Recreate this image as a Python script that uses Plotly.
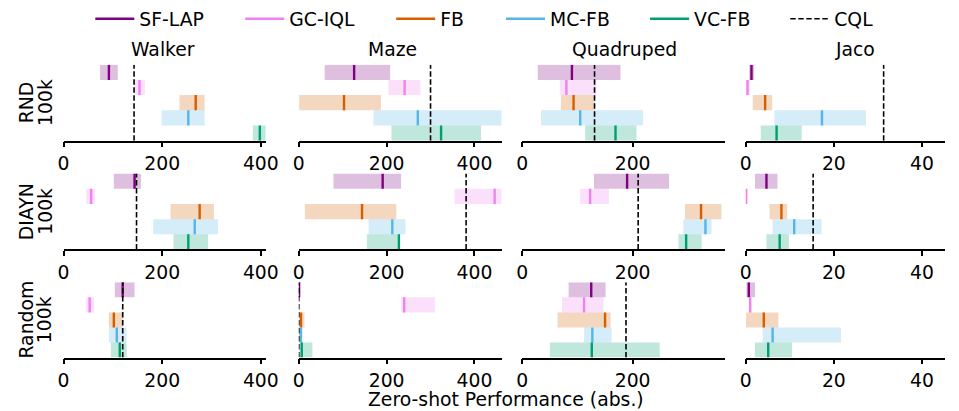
import plotly.graph_objects as go

W, H = 959, 411

METHODS = ["SF-LAP", "GC-IQL", "FB", "MC-FB", "VC-FB"]
COLORS = ["#800080", "#EE82EE", "#D55E00", "#56B4E9", "#009E73"]
ENVS = ["Walker", "Maze", "Quadruped", "Jaco"]
DATASETS = ["RND", "DIAYN", "Random"]
X_TICKS = [[0, 200, 400], [0, 200, 400], [0, 200], [0, 20, 40]]
X_MAX = [410, 462, 367, 45.3]

# RND 100k -- one list per environment, one value per method
RND_LOW = [[74, 145, 235, 199, 384], [59, 204, 1, 170, 211], [28, 68, 70, 34, 114], [0.8, 0.15, 1.6, 6.5, 3.4]]
RND_MED = [[92, 154, 268, 253, 398], [126, 241, 103, 271, 324], [90, 80, 93, 105, 169], [1.3, 0.4, 4.4, 17.3, 7.0]]
RND_HIGH = [[110, 165, 286, 286, 410], [208, 277, 187, 462, 415], [178, 134, 131, 219, 207], [1.9, 1.0, 6.0, 27.3, 12.7]]
RND_CQL = [143, 300, 131, 31.3]

# DIAYN 100k
DIAYN_LOW = [[102, 46, 217, 182, 223], [79, 355, 14, 159, 155], [130, 105, 295, 292, 283], [2.1, 0.0, 5.4, 6.1, 4.7]]
DIAYN_MED = [[144, 56, 276, 266, 253], [191, 446, 144, 213, 228], [190, 123, 324, 332, 297], [4.7, 0.1, 8.1, 11.0, 7.7]]
DIAYN_HIGH = [[157, 64, 305, 313, 293], [233, 462, 222, 243, 230], [266, 157, 361, 343, 325], [7.2, 0.3, 9.4, 17.2, 9.8]]
DIAYN_CQL = [148, 381, 210, 15.3]

# Random 100k
RANDOM_LOW = [[104, 46, 92, 92, 96], [0, 233, 2, 0, 2], [84, 72, 64, 112, 50], [0.15, 0.8, 0.07, 3.85, 2.07]]
RANDOM_MED = [[120, 53, 102, 108, 114], [0.7, 240, 5, 4.5, 6.7], [125, 112, 150, 127, 126], [0.7, 1.0, 4.1, 6.1, 5.1]]
RANDOM_HIGH = [[144, 62, 120, 128, 128], [3, 310, 13, 9, 31], [151, 147, 160, 162, 249], [2.1, 1.3, 7.4, 21.6, 10.5]]
RANDOM_CQL = [120, 0, 188, None]

LOWS = [RND_LOW, DIAYN_LOW, RANDOM_LOW]
MEDS = [RND_MED, DIAYN_MED, RANDOM_MED]
HIGHS = [RND_HIGH, DIAYN_HIGH, RANDOM_HIGH]
CQLS = [RND_CQL, DIAYN_CQL, RANDOM_CQL]

# panel placement in pixels
COL_PX = [(58.7, 265.0), (298.7, 505.7), (526.7, 733.3), (754.7, 958.3)]
ROW_PX = [(58.7, 136.0), (169.5, 246.7), (280.0, 356.7)]
TITLE_X = [160, 394, 631, 866]
LEGEND_TEXT_X = [140, 293, 447, 559, 706, 849]

FONT = "DejaVu Sans"
FS = 18.8


def px(x):
    return x / W


def py(y):
    return 1 - y / H


def rgba(hex_color, a):
    h = hex_color.lstrip("#")
    r, g, b = int(h[0:2], 16), int(h[2:4], 16), int(h[4:6], 16)
    return f"rgba({r},{g},{b},{a})"


fig = go.Figure()
layout = {}
pos = [4 - i for i in range(len(METHODS))]  # first method on top

for r in range(3):
    for c in range(4):
        k = r * 4 + c + 1
        xa = "x" if k == 1 else f"x{k}"
        ya = "y" if k == 1 else f"y{k}"
        low, med, high = LOWS[r][c], MEDS[r][c], HIGHS[r][c]

        # interval bars
        fig.add_trace(go.Bar(
            orientation="h", y=pos, base=low,
            x=[h - l for l, h in zip(low, high)], width=1,
            marker=dict(color=[rgba(col, 0.25) for col in COLORS], line=dict(width=0)),
            showlegend=False, hoverinfo="skip", xaxis=xa, yaxis=ya,
        ))
        # median ticks
        for i, m in enumerate(METHODS):
            first = (r == 0 and c == 0)
            fig.add_trace(go.Scatter(
                x=[med[i], med[i]], y=[pos[i] - 0.5, pos[i] + 0.5], mode="lines",
                line=dict(color=COLORS[i], width=2.4), name=m,
                showlegend=first, legend="legend" if i == 0 else f"legend{i + 1}",
                hoverinfo="skip", xaxis=xa, yaxis=ya,
            ))
        # CQL reference line
        cql = CQLS[r][c]
        if cql is not None:
            fig.add_trace(go.Scatter(
                x=[cql, cql], y=[-0.5, 4.5], mode="lines",
                line=dict(color="black", width=1.6, dash="5.5px,2.5px"), name="CQL",
                showlegend=(r == 0 and c == 0), legend="legend6",
                hoverinfo="skip", xaxis=xa, yaxis=ya,
            ))

        x0, x1 = COL_PX[c]
        y0, y1 = ROW_PX[r]
        layout["xaxis" if k == 1 else f"xaxis{k}"] = dict(
            domain=[px(x0), px(x1)], anchor=ya, range=[0, X_MAX[c]],
            tickvals=X_TICKS[c], ticktext=[str(t) for t in X_TICKS[c]],
            ticks="outside", ticklen=5, tickwidth=1.6, tickcolor="black",
            showline=True, linecolor="black", linewidth=1.6, showgrid=False, zeroline=False,
            tickfont=dict(family=FONT, size=FS, color="black"), fixedrange=True,
        )
        layout["yaxis" if k == 1 else f"yaxis{k}"] = dict(
            domain=[py(y1), py(y0)], anchor=xa, range=[-0.5, 4.5],
            visible=False, showgrid=False, zeroline=False, fixedrange=True,
        )

annotations = []
for c, env in enumerate(ENVS):
    annotations.append(dict(text=env, x=px(TITLE_X[c]), y=py(43), xref="paper", yref="paper",
                            xanchor="center", yanchor="middle", showarrow=False,
                            font=dict(family=FONT, size=FS, color="black")))
for r, ds in enumerate(DATASETS):
    yc = py(sum(ROW_PX[r]) / 2)
    for line, xc in ((ds, 21), ("100k", 40)):
        annotations.append(dict(text=line, x=px(xc), y=yc, xref="paper", yref="paper",
                                xanchor="center", yanchor="middle", textangle=-90, showarrow=False,
                                font=dict(family=FONT, size=FS, color="black")))
annotations.append(dict(text="Zero-shot Performance (abs.)", x=px(510.5), y=py(399),
                        xref="paper", yref="paper", xanchor="center", yanchor="middle",
                        showarrow=False, font=dict(family=FONT, size=FS, color="black")))

for i, tx in enumerate(LEGEND_TEXT_X):
    key = "legend" if i == 0 else f"legend{i + 1}"
    layout[key] = dict(x=px(tx - 54), y=py(12), xanchor="left", yanchor="middle",
                       orientation="h", bgcolor="rgba(0,0,0,0)", borderwidth=0, itemwidth=39,
                       font=dict(family=FONT, size=FS, color="black"))

fig.update_layout(
    width=W, height=H, margin=dict(l=0, r=0, t=0, b=0),
    paper_bgcolor="white", plot_bgcolor="white", barmode="overlay",
    annotations=annotations, **layout,
)

fig.write_html("out.html")
